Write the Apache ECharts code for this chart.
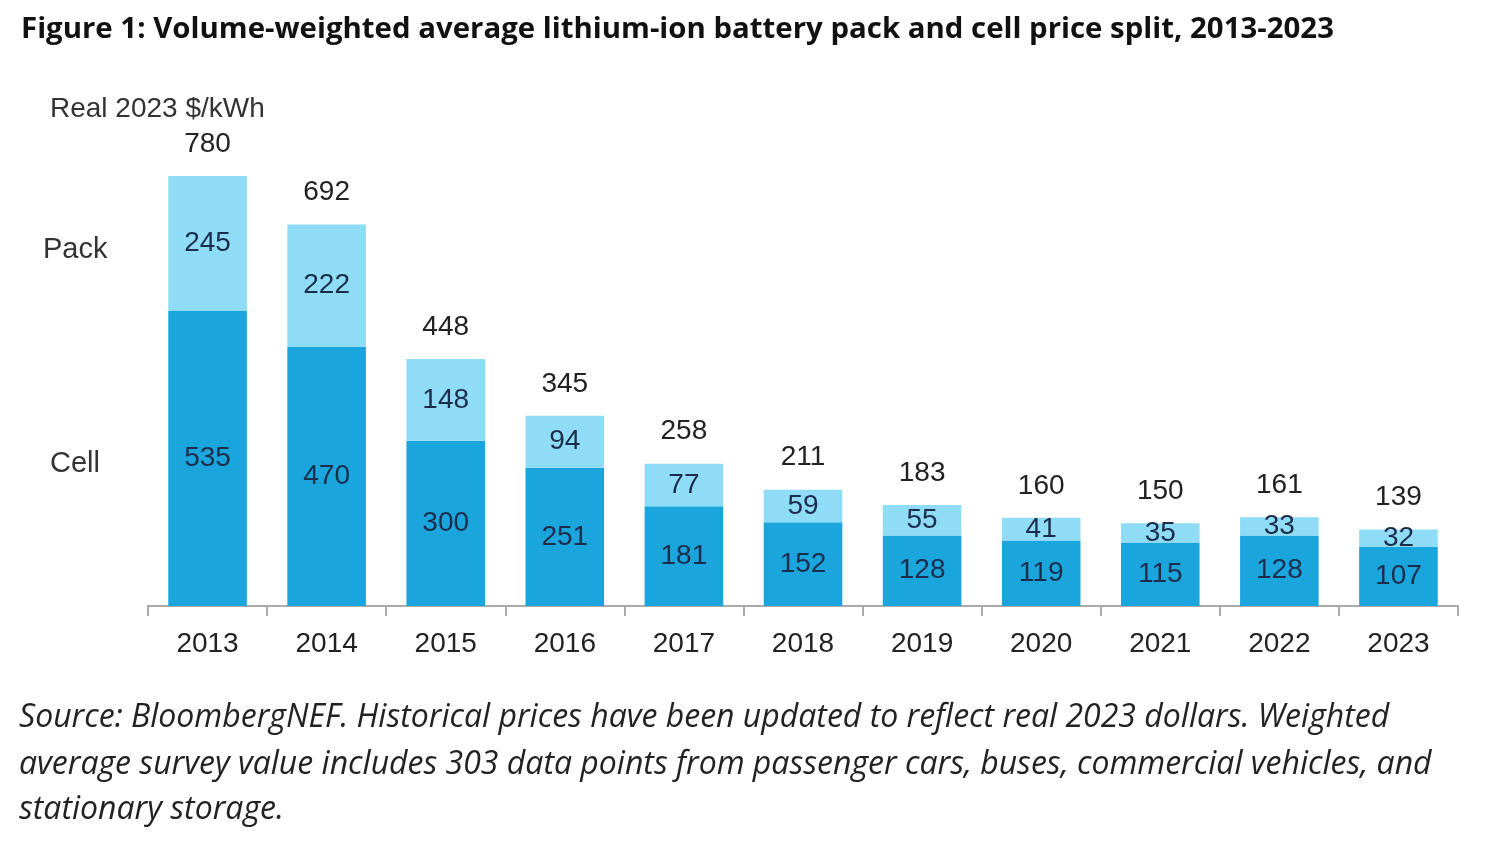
<!DOCTYPE html>
<html style="height: 100%">
<head>
    <meta charset="utf-8">
</head>
<body style="height: 100%; margin: 0; background: #fff">
    <div id="container" style="width: 1490px; height: 842px"></div>

    <script type="text/javascript" src="https://cdn.jsdelivr.net/npm/echarts@6/dist/echarts.min.js"></script>
    <script type="text/javascript">
        // values, real 2023 $/kWh
        var years = ['2013', '2014', '2015', '2016', '2017', '2018', '2019', '2020', '2021', '2022', '2023'];
        var cell = [535, 470, 300, 251, 181, 152, 128, 119, 115, 128, 107];
        var pack = [245, 222, 148, 94, 77, 59, 55, 41, 35, 33, 32];
        var totals = [780, 692, 448, 345, 258, 211, 183, 160, 150, 161, 139];
        var zeros = [0, 0, 0, 0, 0, 0, 0, 0, 0, 0, 0];

        var titleText = 'Figure 1: Volume-weighted average lithium-ion battery pack and cell price split, 2013-2023';
        var sourceLines = [
            'Source: BloombergNEF. Historical prices have been updated to reflect real 2023 dollars. Weighted',
            'average survey value includes 303 data points from passenger cars, buses, commercial vehicles, and',
            'stationary storage.'
        ];

        var dom = document.getElementById("container");
        var myChart = echarts.init(dom);
        var option;

        var labelFont = 'Liberation Sans';
        var inner = '#1c2d4c';
        var srcFont = 'italic 32px "Open Sans"';

        option = {
            backgroundColor: '#fff',
            animation: false,
            title: {
                text: titleText,
                left: 16,
                top: 10,
                textStyle: {
                    fontFamily: 'Open Sans',
                    fontWeight: 'bold',
                    fontSize: 29.4,
                    color: '#111'
                }
            },
            graphic: [
                { type: 'text', left: 50, top: 95, style: { text: 'Real 2023 $/kWh', font: '28px "Liberation Sans"', fill: '#333' } },
                { type: 'text', left: 43, top: 235, style: { text: 'Pack', font: '29px "Liberation Sans"', fill: '#333' } },
                { type: 'text', left: 50, top: 449, style: { text: 'Cell', font: '29px "Liberation Sans"', fill: '#333' } },
                { type: 'text', left: 19, top: 702, style: { text: sourceLines[0], font: srcFont, fill: '#222' } },
                { type: 'text', left: 19, top: 749, style: { text: sourceLines[1], font: srcFont, fill: '#222' } },
                { type: 'text', left: 19, top: 794, style: { text: sourceLines[2], font: srcFont, fill: '#222' } }
            ],
            grid: {
                left: 148,
                right: 32,
                top: 165,
                bottom: 236
            },
            xAxis: {
                type: 'category',
                data: years,
                axisLine: { lineStyle: { color: '#aaa', width: 2 } },
                axisTick: { show: true, length: 10, lineStyle: { color: '#aaa', width: 2 } },
                axisLabel: {
                    margin: 24,
                    fontFamily: labelFont,
                    fontSize: 28,
                    color: '#222'
                }
            },
            yAxis: {
                type: 'value',
                min: 0,
                max: 800,
                show: false
            },
            series: [
                {
                    name: 'Cell',
                    type: 'bar',
                    stack: 'price',
                    barCategoryGap: '34%',
                    data: cell,
                    itemStyle: { color: '#1aa6dd' },
                    label: {
                        show: true,
                        position: 'inside',
                        fontFamily: labelFont,
                        fontSize: 28,
                        color: inner
                    }
                },
                {
                    name: 'Pack',
                    type: 'bar',
                    stack: 'price',
                    data: pack,
                    itemStyle: { color: '#8fdcf6' },
                    label: {
                        show: true,
                        position: 'inside',
                        fontFamily: labelFont,
                        fontSize: 28,
                        color: inner
                    }
                },
                {
                    name: 'Total',
                    type: 'bar',
                    stack: 'price',
                    data: zeros,
                    itemStyle: { color: 'transparent' },
                    label: {
                        show: true,
                        position: 'top',
                        distance: 18,
                        fontFamily: labelFont,
                        fontSize: 28,
                        color: '#222',
                        formatter: function (p) { return totals[p.dataIndex]; }
                    }
                }
            ]
        };
        myChart.setOption(option);
    </script>
</body>
</html>
